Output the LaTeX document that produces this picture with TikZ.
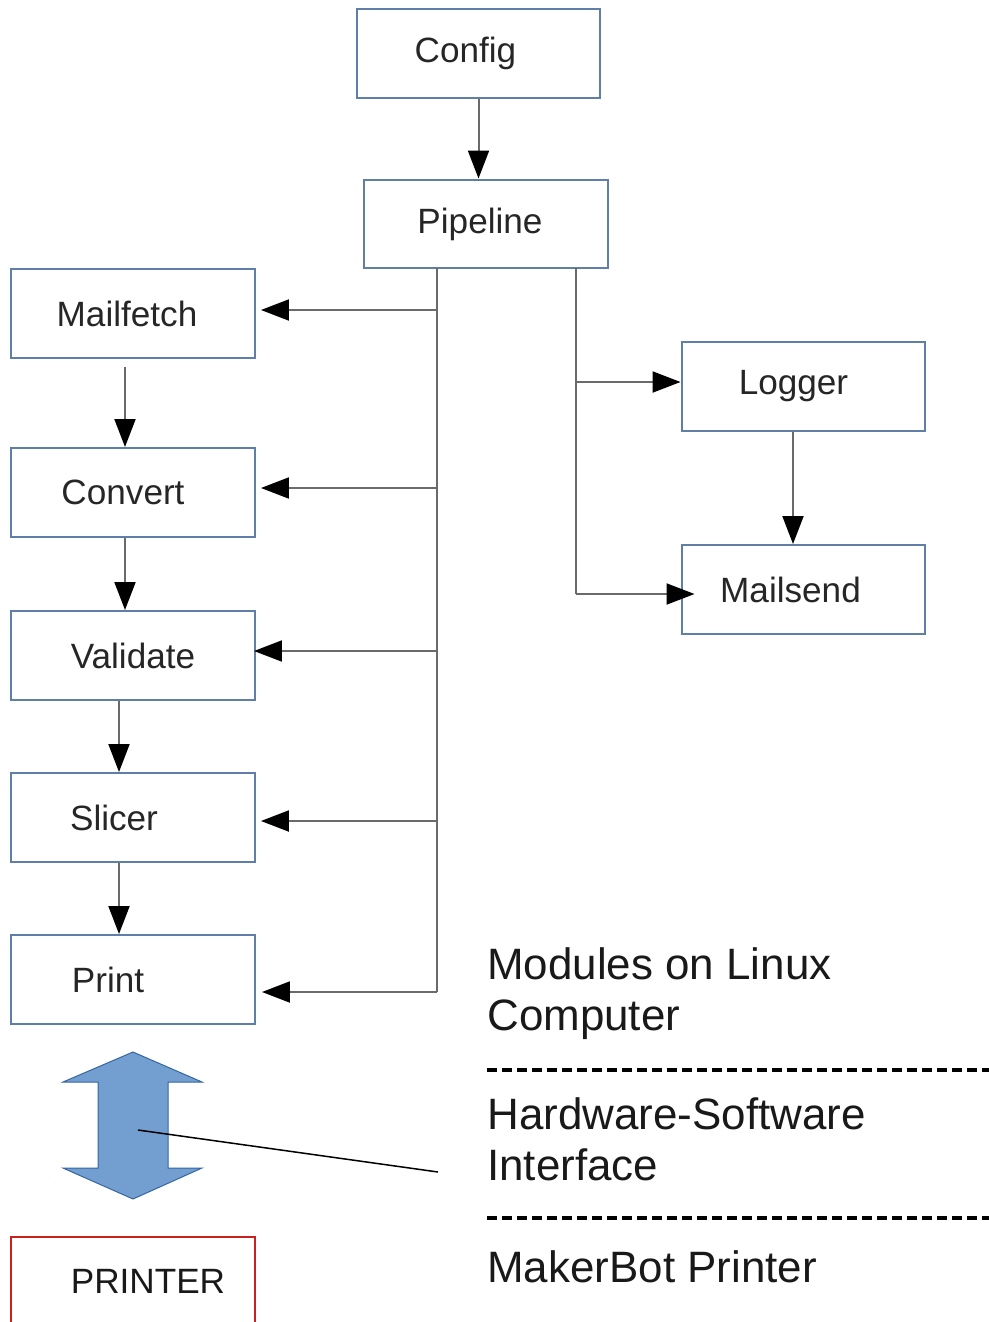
\documentclass[tikz,border=0pt]{standalone}
\usepackage{fontspec}
\setmainfont{Liberation Sans}
\usetikzlibrary{arrows.meta}

\definecolor{boxline}{HTML}{5F7EA8}
\definecolor{wire}{HTML}{6A6A6A}
\definecolor{ifacefill}{HTML}{729FCF}
\definecolor{ifaceline}{HTML}{3465A4}
\definecolor{printerline}{HTML}{C9211E}

\newcommand{\boxfont}{\fontsize{20}{23}\selectfont}
\newcommand{\sidefont}{\fontsize{25}{28.5}\selectfont}
\newcommand{\nudge}[1]{\hspace*{#1}}

\tikzset{
  module/.style = {draw = boxline, line width = .04cm, fill = white,
                   minimum width = 4.88cm, minimum height = 1.78cm,
                   inner sep = 0pt, text = black!85, font = \boxfont},
  wirearrow/.style = {draw = wire, line width = .04cm,
                      -{Triangle[length = .56cm, width = .42cm, color = black]}},
  separator/.style = {draw = black, line width = .065cm,
                      dash pattern = on .2cm off .1cm},
  side/.style = {anchor = base west, align = left, inner sep = 0pt,
                 text = black!90, font = \sidefont}
}

\begin{document}
\begin{tikzpicture}[x = .02cm, y = -.02cm]
  \useasboundingbox (0,0) rectangle (989,1322);

  % top of the pipeline
  \node [module] (config) at (478.5,53.5) {\nudge{-.52cm}\raisebox{-.1cm}{Config}};
  \node [module] (pipeline) at (486,224) {\nudge{-.24cm}Pipeline};
  \draw [wirearrow] (config.south) -- (config.south |- pipeline.north);

  % modules, left column
  \node [module] (mailfetch) at (133,313.5) {\nudge{-.24cm}Mailfetch};
  \node [module] (convert) at (133,492.5) {\nudge{-.4cm}Convert};
  \node [module] (validate) at (133,655.5) {Validate};
  \node [module] (slicer) at (133,817.5) {\nudge{-.76cm}Slicer};
  \node [module] (print) at (133,979.5) {\nudge{-1cm}Print};

  % modules, right column
  \node [module] (logger) at (803.5,386.5) {\nudge{-.4cm}Logger};
  \node [module] (mailsend) at (803.5,589.5) {\nudge{-.52cm}Mailsend};

  % printer below the interface
  \node [module, draw = printerline, text = black!90] (printer) at (133,1281.5)
    {\nudge{.6cm}\raisebox{-.1cm}{PRINTER}};

  % chain of the left column
  \draw [wirearrow, shorten <= .16cm] ([xshift = -.16cm] mailfetch.south)
    -- ([xshift = -.16cm] convert.north);
  \draw [wirearrow] ([xshift = -.16cm] convert.south)
    -- ([xshift = -.16cm] validate.north);
  \draw [wirearrow] ([xshift = -.28cm] validate.south)
    -- ([xshift = -.28cm] slicer.north);
  \draw [wirearrow] ([xshift = -.28cm] slicer.south)
    -- ([xshift = -.28cm] print.north);
  \draw [wirearrow] ([xshift = -.21cm] logger.south)
    -- ([xshift = -.21cm] mailsend.north);

  % bus to the left column
  \coordinate (busl) at (437,268);
  \draw [draw = wire, line width = .04cm] (busl) -- (busl |- 0,992);
  \draw [wirearrow] (busl |- 0,310) -- ([xshift = .1cm] mailfetch.east |- 0,310);
  \draw [wirearrow] (busl |- 0,488) -- ([xshift = .1cm] convert.east |- 0,488);
  \draw [wirearrow] (busl |- 0,651) -- ([xshift = -.04cm] validate.east |- 0,651);
  \draw [wirearrow] (busl |- 0,821) -- ([xshift = .1cm] slicer.east |- 0,821);
  \draw [wirearrow] (busl |- 0,992) -- ([xshift = .12cm] print.east |- 0,992);

  % bus to the right column
  \coordinate (busr) at (576,268);
  \draw [draw = wire, line width = .04cm] (busr) -- (busr |- 0,594);
  \draw [wirearrow] (busr |- 0,382) -- (logger.west |- 0,382);
  \draw [wirearrow] (busr |- 0,594) -- ([xshift = .28cm] mailsend.west |- 0,594);

  % hardware-software interface
  \draw [fill = ifacefill, draw = ifaceline, line width = .02cm]
    (133,1052) -- (202,1082) -- (168,1082) -- (168,1168) -- (202,1168)
    -- (133,1199) -- (63,1168) -- (98,1168) -- (98,1082) -- (63,1082) -- cycle;
  \coordinate (iface) at (138,1130);
  \coordinate (ifacetag) at (438,1172);
  \draw [line width = .03cm] (iface) -- (ifacetag);

  % legend on the right
  \node [side] (linuxtext) at (487,1030) {Modules on Linux\\Computer};
  \draw [separator] (487,1070) -- (989,1070);
  \node [side] (ifacetext) at (487,1180) {Hardware-Software\\Interface};
  \draw [separator] (487,1218) -- (989,1218);
  \node [side] (printertext) at (487,1282) {MakerBot Printer};
\end{tikzpicture}
\end{document}
